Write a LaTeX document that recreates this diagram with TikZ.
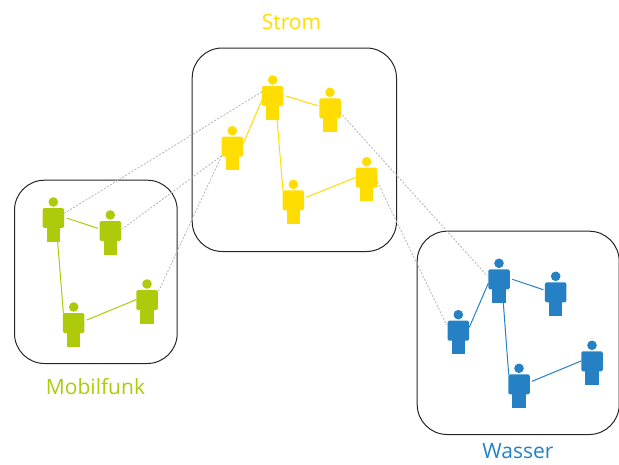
\documentclass[tikz,border=0pt]{standalone}
\usepackage{fontspec}
\setmainfont{Open Sans}
\definecolor{cstrom}{HTML}{FFDD00}
\definecolor{cmobil}{HTML}{AFCA0B}
\definecolor{cwasser}{HTML}{2581C4}
\definecolor{cdots}{HTML}{B4B4B4}
\tikzset{
  netbox/.style={draw=black!85,line width=1pt,rounded corners=30pt,inner sep=0pt,anchor=north west},
  torso/.style={rectangle,rounded corners=1.5pt,inner sep=0pt,minimum width=21.5pt,minimum height=20pt},
  legs/.style={rectangle,inner sep=0pt,minimum width=13.4pt,minimum height=14pt},
  head/.style={circle,inner sep=0pt,minimum size=9.6pt},
  netlink/.style={line width=1pt},
  crosslink/.style={draw=cdots,line width=0.8pt,dash pattern=on 2pt off 1.6pt},
  caption/.style={inner sep=0pt,font=\fontsize{21}{24}\selectfont}
}
\newcommand{\person}[4]{%
  \node[legs,fill=#2] (#1l) at (#3,#4+16.7) {};
  \node[head,fill=#2] (#1h) at (#3,#4-16) {};
  \node[torso,fill=#2] (#1) at (#3,#4) {};
}
\newcommand{\netlinks}[2]{%
  \draw[netlink,#2] ([shift={(13.3,0)}]#1A.center) -- ([shift={(-12.3,-2.6)}]#1B.center);
  \draw[netlink,#2] ([shift={(4.3,23.3)}]#1A.center) -- ([shift={(-10.3,-9.6)}]#1D.center);
  \draw[netlink,#2] ([shift={(13,-3)}]#1D.center) -- ([shift={(-10.7,-0.4)}]#1E.center);
}
\begin{document}
\begin{tikzpicture}[x=1pt,y=-1pt]
\useasboundingbox (0,0) rectangle (619,464);
% boxes
\node[netbox,minimum width=204.3pt,minimum height=203.5pt] (boxS) at (191.7,47.5) {};
\node[netbox,minimum width=162.7pt,minimum height=183.3pt] (boxM) at (14,179.7) {};
\node[netbox,minimum width=202pt,minimum height=203.3pt] (boxW) at (416.7,230.7) {};
% people
\person{SA}{cstrom}{272.7}{96}
\person{SB}{cstrom}{330}{108.3}
\person{SC}{cstrom}{232.3}{146.7}
\person{SD}{cstrom}{293.3}{200.3}
\person{SE}{cstrom}{366.7}{177.7}
\person{MA}{cmobil}{53.3}{218}
\person{MB}{cmobil}{110.3}{231}
\person{MD}{cmobil}{73.7}{323}
\person{ME}{cmobil}{147}{300}
\person{WA}{cwasser}{499}{279.3}
\person{WB}{cwasser}{555.7}{292.3}
\person{WC}{cwasser}{458.3}{330.7}
\person{WD}{cwasser}{519}{384.3}
\person{WE}{cwasser}{592}{361.3}
% links inside networks
\netlinks{S}{cstrom}
\netlinks{M}{cmobil}
\netlinks{W}{cwasser}
\draw[netlink,cstrom] ([shift={(-10.7,4)}]SA.center) -- ([shift={(11,-3.4)}]SC.center);
\draw[netlink,cwasser] ([shift={(-10.7,4)}]WA.center) -- ([shift={(11,-3.4)}]WC.center);
% links between networks
\draw[crosslink] ([shift={(-10.7,-4.3)}]SA.center) -- ([shift={(11,-4.7)}]MA.center);
\draw[crosslink] ([shift={(-10.6,9)}]SC.center) -- ([shift={(11.4,-1.7)}]MB.center);
\draw[crosslink] ([shift={(-10.6,9)}]SC.center) -- ([shift={(11.3,-8.3)}]ME.center);
\draw[crosslink] ([shift={(10,4)}]SB.center) -- ([shift={(-11.7,-3.3)}]WA.center);
\draw[crosslink] ([shift={(10.6,4)}]SE.center) -- ([shift={(-11.6,-5.6)}]WC.center);
% captions
\node[caption,text=cstrom] (capS) at (291.5,22) {Strom};
\node[caption,text=cmobil] (capM) at (95.5,387) {Mobilfunk};
\node[caption,text=cwasser] (capW) at (518,451) {Wasser};
\end{tikzpicture}
\end{document}
